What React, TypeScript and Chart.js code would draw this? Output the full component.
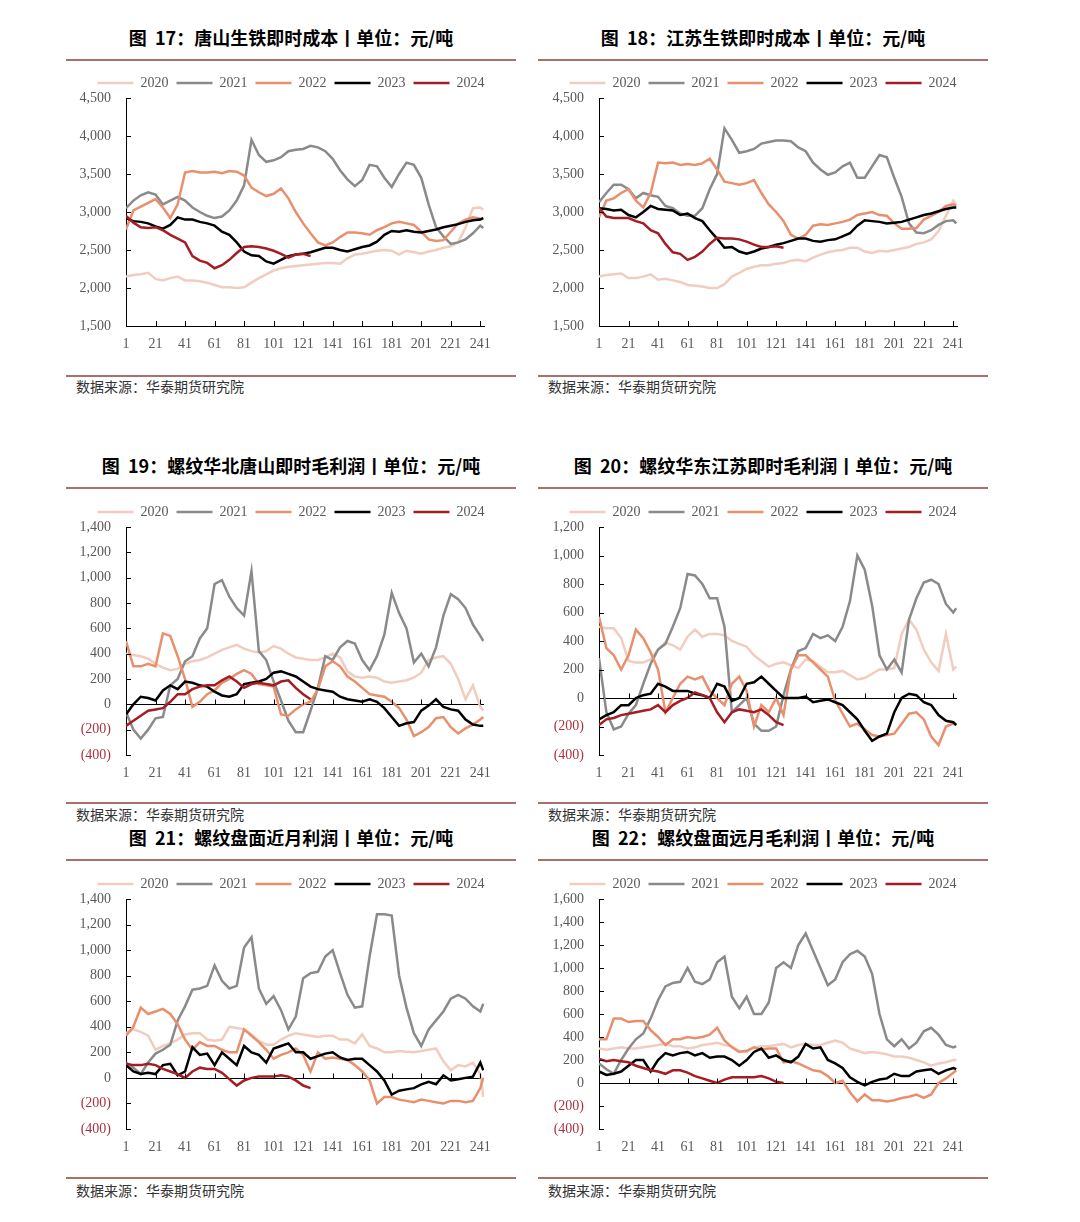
import React, { useEffect, useRef } from "react";
import { Chart, registerables } from "chart.js";
Chart.register(...registerables);

const DAYS = [1,6,11,16,21,26,31,36,41,46,51,56,61,66,71,76,81,86,91,96,101,106,111,116,121,126,131,136,141,146,151,156,161,166,171,176,181,186,191,196,201,206,211,216,221,226,231,236,241,243];
const X_TICKS = [1,21,41,61,81,101,121,141,161,181,201,221,241];
const YEARS = ["2020", "2021", "2022", "2023", "2024"];
const COLORS = ["#f0cdbe", "#8a8a8a", "#e8906e", "#000000", "#a51d24"];

// 图17 唐山生铁即时成本
const C17_2020 = [2150,2170,2180,2200,2120,2100,2130,2150,2100,2100,2090,2070,2040,2010,2010,2000,2010,2070,2130,2180,2230,2260,2280,2290,2300,2310,2320,2330,2330,2320,2390,2440,2450,2470,2490,2500,2490,2440,2490,2470,2450,2480,2500,2530,2550,2600,2800,3050,3060,3030];
const C17_2021 = [3050,3150,3220,3260,3230,3100,3150,3200,3150,3060,3000,2950,2920,2940,3020,3150,3350,3950,3750,3660,3680,3720,3800,3820,3830,3870,3850,3800,3700,3550,3430,3340,3420,3620,3600,3450,3330,3500,3650,3620,3450,3100,2800,2680,2580,2600,2640,2720,2820,2790];
const C17_2022 = [2770,3020,3070,3120,3170,3060,2920,3100,3520,3540,3520,3520,3530,3510,3540,3530,3480,3320,3260,3210,3240,3310,3180,3000,2850,2720,2600,2560,2600,2670,2730,2730,2720,2700,2760,2800,2850,2870,2850,2830,2740,2640,2620,2630,2740,2850,2900,2930,2910,2920];
const C17_2023 = [2920,2880,2870,2850,2810,2780,2830,2930,2900,2900,2870,2850,2820,2740,2700,2600,2480,2430,2420,2350,2320,2370,2420,2440,2450,2470,2500,2530,2530,2500,2480,2510,2540,2560,2610,2700,2750,2740,2760,2740,2730,2750,2770,2800,2820,2840,2870,2890,2900,2920];
const C17_2024 = [2950,2860,2800,2790,2800,2760,2700,2650,2600,2420,2360,2330,2260,2300,2370,2460,2540,2550,2540,2520,2490,2450,2400,2440,2450,2420];

// 图18 江苏生铁即时成本
const C18_2020 = [2150,2170,2180,2190,2130,2130,2150,2180,2110,2120,2100,2080,2040,2030,2020,2000,2000,2050,2150,2200,2250,2280,2300,2300,2320,2330,2360,2370,2350,2400,2440,2470,2490,2500,2530,2530,2480,2460,2490,2480,2500,2520,2540,2580,2600,2640,2750,2950,3150,3100];
const C18_2021 = [3130,3250,3360,3360,3300,3180,3250,3220,3200,3080,3050,2980,2950,2950,3050,3300,3500,4100,3950,3780,3800,3830,3900,3920,3940,3940,3930,3850,3800,3650,3560,3490,3520,3600,3650,3450,3450,3600,3750,3720,3450,3200,2850,2730,2720,2760,2830,2880,2890,2850];
const C18_2022 = [2930,3150,3180,3250,3300,3150,3060,3250,3650,3640,3650,3620,3630,3620,3640,3700,3560,3400,3380,3360,3380,3420,3250,3100,3000,2880,2700,2650,2700,2820,2840,2830,2850,2870,2900,2960,2980,3000,2960,2950,2850,2780,2780,2790,2900,2950,3000,3080,3100,3080];
const C18_2023 = [3050,3040,3020,3030,2960,2930,3000,3080,3040,3030,3020,2960,2980,2920,2880,2760,2650,2530,2540,2480,2450,2480,2520,2540,2570,2590,2620,2650,2650,2620,2610,2630,2640,2680,2720,2820,2890,2880,2870,2850,2860,2870,2900,2930,2960,2980,3010,3040,3060,3060];
const C18_2024 = [3050,2940,2920,2920,2920,2880,2850,2760,2720,2580,2470,2450,2370,2410,2480,2580,2660,2650,2650,2640,2610,2570,2540,2540,2550,2530];

// 图19 螺纹华北唐山即时毛利润
const C19_2020 = [400,390,380,360,320,290,270,280,320,340,350,370,400,430,450,470,440,420,410,420,460,440,400,370,360,350,350,370,400,370,260,220,210,220,210,180,170,180,190,210,250,350,370,380,320,200,40,150,-20,-50];
const C19_2021 = [-60,-200,-270,-200,-110,-100,150,200,340,380,520,600,950,980,850,760,700,1050,420,350,180,30,-130,-220,-220,-50,130,380,350,450,500,480,350,270,380,550,880,720,600,330,400,300,450,700,870,830,760,630,540,500];
const C19_2022 = [500,300,300,320,300,560,540,380,200,-20,20,80,110,170,200,240,270,240,160,150,140,-80,-90,-40,0,20,120,300,340,300,220,180,130,80,70,60,20,-30,-120,-250,-220,-180,-110,-100,-180,-230,-190,-160,-120,-100];
const C19_2023 = [-80,0,60,50,30,110,150,120,180,170,150,140,100,70,60,80,160,170,180,200,250,260,240,220,180,140,120,110,100,60,40,30,20,40,20,-30,-100,-170,-150,-140,-50,-10,40,-20,-40,-50,-120,-160,-170,-170];
const C19_2024 = [-170,-130,-90,-50,-40,-30,20,80,80,120,140,150,150,190,220,180,130,160,170,160,150,180,190,130,80,40];

// 图20 螺纹华东江苏即时毛利润
const C20_2020 = [500,490,490,420,260,250,250,270,340,390,370,340,430,480,430,450,450,440,400,380,360,300,260,220,240,250,230,210,270,260,220,180,180,190,160,130,140,170,200,200,210,450,550,480,340,250,190,450,200,220];
const C20_2021 = [280,-100,-220,-200,-110,-50,100,240,340,380,500,630,870,860,800,700,700,500,-100,-50,0,-180,-230,-230,-200,20,200,330,350,450,420,440,400,500,680,1000,900,650,300,200,270,180,550,700,810,830,800,660,600,630];
const C20_2022 = [570,350,300,200,300,480,420,320,200,-100,0,100,150,130,150,50,0,-50,100,150,50,-200,-50,-100,0,-120,200,300,300,250,200,150,-20,-110,-200,-180,-220,-260,-270,-260,-250,-180,-110,-100,-150,-270,-330,-200,-180,-190];
const C20_2023 = [-150,-120,-100,-50,-50,0,20,30,100,80,50,50,50,30,20,0,100,80,-20,0,100,110,150,100,50,0,0,0,10,-30,-20,-10,-30,-50,-100,-150,-230,-300,-270,-250,-100,0,30,20,-30,-50,-120,-160,-170,-190];
const C20_2024 = [-190,-150,-140,-120,-110,-100,-90,-80,-50,-100,-50,-20,0,40,20,0,-100,-170,-100,-80,-90,-100,-80,-120,-170,-190];

// 图21 螺纹盘面近月利润
const C21_2020 = [350,380,360,330,220,250,270,300,340,350,350,300,290,300,400,390,380,340,290,260,260,300,330,350,340,330,320,330,330,300,300,270,340,250,230,200,200,210,205,200,210,220,230,130,60,100,90,120,30,-150];
const C21_2021 = [120,80,30,120,190,220,260,450,560,690,700,720,880,760,700,720,1020,1100,700,580,640,530,380,480,780,820,830,950,1000,820,650,550,560,950,1280,1280,1270,800,550,350,250,380,450,520,620,650,620,560,520,580];
const C21_2022 = [330,400,550,500,520,540,500,420,300,220,280,250,250,220,200,200,380,330,280,220,150,180,200,230,180,50,200,150,160,150,140,100,50,-20,-200,-150,-150,-170,-180,-190,-170,-180,-190,-200,-180,-180,-190,-180,-80,0];
const C21_2023 = [100,50,30,40,30,100,110,20,50,240,180,190,100,200,150,100,250,200,180,120,230,250,270,200,200,150,170,190,200,160,140,150,150,100,50,-20,-130,-100,-90,-80,-50,-30,-50,20,-20,-10,0,10,120,60];
const C21_2024 = [110,100,100,110,100,70,50,30,0,50,80,70,70,40,-10,-60,-20,0,10,10,10,20,10,-20,-60,-80];

// 图22 螺纹盘面远月毛利润
const C22_2020 = [300,290,300,310,300,300,310,320,330,340,320,320,300,310,330,340,350,330,320,280,270,310,320,320,330,340,310,330,340,330,330,350,370,350,300,280,260,270,260,250,230,230,220,200,180,150,170,180,200,200];
const C22_2021 = [170,120,80,200,300,380,430,560,720,840,870,880,1000,880,860,900,1050,1100,750,650,750,600,600,700,1000,1050,1000,1200,1300,1150,1000,850,900,1050,1120,1150,1100,950,600,380,320,380,300,350,450,480,420,330,310,320];
const C22_2022 = [380,380,560,560,530,540,540,460,400,330,380,380,400,390,400,420,480,370,310,270,280,310,290,300,300,180,190,170,140,110,100,60,0,20,-80,-160,-100,-150,-150,-160,-150,-130,-120,-100,-130,-100,0,40,90,110];
const C22_2023 = [100,70,80,100,150,200,200,100,200,260,240,260,270,240,260,220,230,230,200,150,200,270,300,220,240,200,180,230,340,300,310,200,170,130,50,10,-20,10,30,40,80,60,60,100,110,120,80,110,130,120];
const C22_2024 = [210,190,200,190,180,150,130,110,100,80,110,110,90,60,40,20,0,30,50,50,50,50,60,40,10,0];

type PanelDef = {
  title: string;
  col: number;
  row: number;
  yMin: number;
  yMax: number;
  step: number;
  series: number[][];
};

const PANELS: PanelDef[] = [
  { title: "图\u00a0\u00a017：唐山生铁即时成本丨单位：元/吨", col: 0, row: 0, yMin: 1500, yMax: 4500, step: 500, series: [C17_2020, C17_2021, C17_2022, C17_2023, C17_2024] },
  { title: "图\u00a0\u00a018：江苏生铁即时成本丨单位：元/吨", col: 1, row: 0, yMin: 1500, yMax: 4500, step: 500, series: [C18_2020, C18_2021, C18_2022, C18_2023, C18_2024] },
  { title: "图\u00a0\u00a019：螺纹华北唐山即时毛利润丨单位：元/吨", col: 0, row: 1, yMin: -400, yMax: 1400, step: 200, series: [C19_2020, C19_2021, C19_2022, C19_2023, C19_2024] },
  { title: "图\u00a0\u00a020：螺纹华东江苏即时毛利润丨单位：元/吨", col: 1, row: 1, yMin: -400, yMax: 1200, step: 200, series: [C20_2020, C20_2021, C20_2022, C20_2023, C20_2024] },
  { title: "图\u00a0\u00a021：螺纹盘面近月利润丨单位：元/吨", col: 0, row: 2, yMin: -400, yMax: 1400, step: 200, series: [C21_2020, C21_2021, C21_2022, C21_2023, C21_2024] },
  { title: "图\u00a0\u00a022：螺纹盘面远月毛利润丨单位：元/吨", col: 1, row: 2, yMin: -400, yMax: 1600, step: 200, series: [C22_2020, C22_2021, C22_2022, C22_2023, C22_2024] },
];

const ROWS = [
  { titleY: 37, lineTop: 60, canvasTop: 68, canvasH: 288, lineBottom: 376, srcY: 386 },
  { titleY: 465, lineTop: 488, canvasTop: 497, canvasH: 288, lineBottom: 803, srcY: 814 },
  { titleY: 837, lineTop: 860, canvasTop: 869, canvasH: 290, lineBottom: 1178, srcY: 1190 },
];
const COLS = [
  { left: 66, yW: 60, padR: 32 },
  { left: 538, yW: 61, padR: 31 },
];
const PANEL_W = 450;
const RULE_COLOR = "#a8716b";
const SERIF = "'Liberation Serif', 'Times New Roman', serif";
const SANS = "'Noto Sans CJK SC', 'Noto Sans', sans-serif";

const fmt = (v: number) => {
  const s = Math.abs(v).toLocaleString("en-US");
  return v < 0 ? `(${s})` : s;
};

const tickMarks = {
  id: "tickMarks",
  beforeDatasetsDraw(chart: any) {
    const { ctx, chartArea, scales } = chart;
    const y = scales.y;
    ctx.save();
    ctx.strokeStyle = "#000";
    ctx.lineWidth = 1;
    ctx.beginPath();
    if (y.min < 0) {
      const zy = Math.round(y.getPixelForValue(0)) + 0.5;
      ctx.moveTo(chartArea.left, zy);
      ctx.lineTo(chartArea.right, zy);
    }
    ctx.stroke();
    ctx.restore();
  },
  afterDatasetsDraw(chart: any) {
    const { ctx, chartArea, scales } = chart;
    const x = scales.x;
    const y = scales.y;
    const base = y.min < 0 ? Math.round(y.getPixelForValue(0)) + 0.5 : chartArea.bottom;
    ctx.save();
    ctx.strokeStyle = "#000";
    ctx.lineWidth = 1;
    ctx.beginPath();
    x.ticks.forEach((t: any) => {
      const px = Math.round(x.getPixelForValue(t.value)) + 0.5;
      ctx.moveTo(px, base);
      ctx.lineTo(px, base - 5);
    });
    y.ticks.forEach((t: any) => {
      const py = Math.round(y.getPixelForValue(t.value)) + 0.5;
      ctx.moveTo(chartArea.left, py);
      ctx.lineTo(chartArea.left + 5, py);
    });
    ctx.stroke();
    ctx.restore();
  },
};

function Panel({ def }: { def: PanelDef }) {
  const ref = useRef<HTMLCanvasElement>(null);
  const row = ROWS[def.row];
  const col = COLS[def.col];
  useEffect(() => {
    if (!ref.current) return;
    const datasets = def.series.map((vals, i) => ({
      label: YEARS[i],
      data: vals.map((v, j) => ({ x: DAYS[j], y: v })),
      borderColor: COLORS[i],
      backgroundColor: COLORS[i],
      borderWidth: 2.5,
      pointRadius: 0,
      pointHoverRadius: 0,
      pointBorderWidth: 2.5,
      pointBorderColor: COLORS[i],
      tension: 0,
      order: 5 - i,
    }));
    const chart = new Chart(ref.current, {
      type: "line",
      data: { datasets },
      plugins: [tickMarks],
      options: {
        animation: false,
        responsive: false,
        events: [],
        layout: { padding: 0 },
        plugins: {
          tooltip: { enabled: false },
          legend: {
            position: "top",
            maxHeight: 30,
            labels: {
              usePointStyle: true,
              pointStyle: "line",
              pointStyleWidth: 36,
              padding: 8,
              color: "#595959",
              font: { family: SERIF, size: 14 },
              sort: (a: any, b: any) => a.datasetIndex - b.datasetIndex,
            },
          },
        },
        scales: {
          x: {
            type: "linear",
            min: 1,
            max: 243.5,
            grid: { display: false, drawTicks: false },
            border: { display: def.yMin >= 0, color: "#000", width: 1 },
            afterBuildTicks: (s: any) => {
              s.ticks = X_TICKS.map((v) => ({ value: v }));
            },
            afterFit: (s: any) => {
              s.height = 30;
              s.paddingLeft = 0;
              s.paddingRight = col.padR;
            },
            ticks: {
              padding: 10,
              color: "#595959",
              font: { family: SERIF, size: 14 },
              maxRotation: 0,
              autoSkip: false,
              callback: (v: any) => String(v),
            },
          },
          y: {
            type: "linear",
            min: def.yMin,
            max: def.yMax,
            grid: { display: false, drawTicks: false },
            border: { display: true, color: "#000", width: 1 },
            afterFit: (s: any) => {
              s.width = col.yW;
              s.paddingTop = 0;
              s.paddingBottom = 0;
            },
            ticks: {
              stepSize: def.step,
              padding: 15,
              font: { family: SERIF, size: 14 },
              color: (ctx: any) => (ctx.tick && ctx.tick.value < 0 ? "#aa3340" : "#595959"),
              callback: (v: any) => fmt(Number(v)),
            },
          },
        },
      } as any,
    });
    return () => chart.destroy();
  }, []);

  return (
    <>
      <div
        style={{
          position: "absolute",
          left: col.left,
          width: PANEL_W,
          top: row.titleY - 13,
          height: 26,
          lineHeight: "26px",
          textAlign: "center",
          fontFamily: SANS,
          fontWeight: 700,
          fontSize: 18,
          color: "#000",
          whiteSpace: "nowrap",
        }}
      >
        {def.title}
      </div>
      <div style={{ position: "absolute", left: col.left, width: PANEL_W, top: row.lineTop - 1, height: 2, background: RULE_COLOR }} />
      <canvas
        ref={ref}
        width={PANEL_W}
        height={row.canvasH}
        style={{ position: "absolute", left: col.left, top: row.canvasTop, width: PANEL_W, height: row.canvasH }}
      />
      <div style={{ position: "absolute", left: col.left, width: PANEL_W, top: row.lineBottom - 1, height: 2, background: RULE_COLOR }} />
      <div
        style={{
          position: "absolute",
          left: col.left + 10,
          top: row.srcY - 10,
          height: 20,
          lineHeight: "20px",
          fontFamily: SANS,
          fontSize: 14,
          color: "#333",
          whiteSpace: "nowrap",
        }}
      >
        数据来源：华泰期货研究院
      </div>
    </>
  );
}

export default function App() {
  return (
    <div style={{ position: "absolute", left: 0, top: 0, width: 1080, height: 1222, background: "#fff", overflow: "hidden" }}>
      {PANELS.map((p, i) => (
        <Panel key={i} def={p} />
      ))}
    </div>
  );
}
